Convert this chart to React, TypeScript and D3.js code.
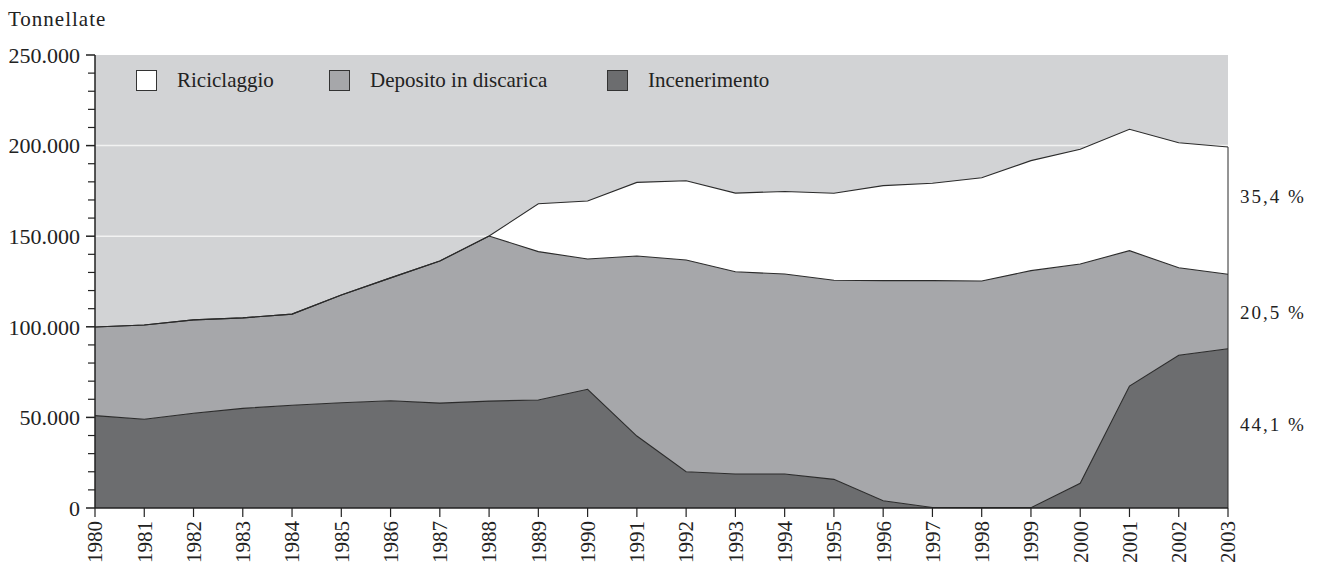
import * as d3 from "d3";

const years = [
  1980, 1981, 1982, 1983, 1984, 1985, 1986, 1987, 1988, 1989, 1990, 1991,
  1992, 1993, 1994, 1995, 1996, 1997, 1998, 1999, 2000, 2001, 2002, 2003,
];

// tonnellate per anno
const incenerimento = [
  51000, 49000, 52300, 55000, 56700, 58100, 59200, 57900, 59000, 59600, 65500,
  39700, 20000, 18800, 18800, 15800, 4000, 300, 200, 200, 13600, 67300, 84300,
  87900,
];
const deposito = [
  48900, 52000, 51500, 49900, 50300, 59400, 67800, 78400, 91100, 81900, 71900,
  99400, 116900, 111600, 110300, 109900, 121500, 125200, 125100, 130800,
  121100, 74700, 48300, 41100,
];
const riciclaggio = [
  0, 0, 0, 0, 0, 0, 0, 0, 0, 26400, 32000, 40600, 43700, 43400, 45600, 48000,
  52400, 53700, 57000, 60700, 63300, 67000, 69000, 70200,
];

const legendItems = ["Riciclaggio", "Deposito in discarica", "Incenerimento"];
const shareLabels = ["35,4 %", "20,5 %", "44,1 %"];
// dove stanno le quote sul lato destro (in tonnellate)
const shareAt = [172000, 108000, 46000];

const W = 1329;
const H = 571;
const margin = { top: 55, right: 101, bottom: 63, left: 95 };
const FONT = "'Liberation Serif', 'Times New Roman', serif";
const colors = {
  bg: "#d2d3d5",
  riciclaggio: "#ffffff",
  deposito: "#a6a7aa",
  incenerimento: "#6c6d6f",
  line: "#2b2b2b",
};

export default function App() {
  const innerW = W - margin.left - margin.right;
  const innerH = H - margin.top - margin.bottom;

  const x = d3
    .scaleLinear()
    .domain([years[0], years[years.length - 1]])
    .range([0, innerW]);
  const y = d3.scaleLinear().domain([0, 250000]).range([innerH, 0]);

  const rows = years.map((yr, i) => ({
    year: yr,
    incenerimento: incenerimento[i],
    deposito: deposito[i],
    riciclaggio: riciclaggio[i],
  }));
  const keys = ["incenerimento", "deposito", "riciclaggio"] as const;
  const series = d3.stack<any>().keys(keys as any)(rows);

  const area = d3
    .area<any>()
    .x((d) => x(d.data.year))
    .y0((d) => y(d[0]))
    .y1((d) => y(d[1]));
  const topLine = d3
    .line<any>()
    .x((d) => x(d.data.year))
    .y((d) => y(d[1]));

  const fmt = (v: number) =>
    v === 0 ? "0" : d3.format(",")(v).replace(/,/g, ".");
  const majorTicks = d3.range(0, 250001, 50000);
  const minorTicks = d3.range(0, 250001, 10000).filter((v) => v % 50000 !== 0);

  const lastTotal = series[2][series[2].length - 1][1];
  const legendX = [41, 234, 512];
  const legendFill = [colors.riciclaggio, colors.deposito, colors.incenerimento];

  return (
    <svg
      width={W}
      height={H}
      style={{ position: "absolute", left: 0, top: 0, background: "#fff" }}
      fontFamily={FONT}
    >
      <text x={8} y={26} fontSize={21} letterSpacing={1} fill="#222">
        Tonnellate
      </text>
      <g transform={`translate(${margin.left},${margin.top})`}>
        <rect x={0} y={0} width={innerW} height={innerH} fill={colors.bg} />
        {majorTicks.slice(1, -1).map((v) => (
          <line
            key={v}
            x1={0}
            x2={innerW}
            y1={y(v)}
            y2={y(v)}
            stroke="#f2f2f2"
            strokeWidth={1.5}
          />
        ))}
        {series.map((s, i) => (
          <path
            key={s.key}
            d={area(s) || ""}
            fill={[colors.incenerimento, colors.deposito, colors.riciclaggio][i]}
          />
        ))}
        {series.map((s) => (
          <path
            key={"l" + s.key}
            d={topLine(s) || ""}
            fill="none"
            stroke={colors.line}
            strokeWidth={1.1}
          />
        ))}
        <line
          x1={innerW}
          x2={innerW}
          y1={y(lastTotal)}
          y2={innerH}
          stroke={colors.line}
          strokeWidth={1}
        />

        {/* legenda */}
        {legendItems.map((name, i) => (
          <g key={name} transform={`translate(${legendX[i]},15)`}>
            <rect
              x={0.5}
              y={0.5}
              width={20}
              height={20}
              fill={legendFill[i]}
              stroke="#333"
              strokeWidth={1}
            />
            <text x={41} y={17} fontSize={21} fill="#222">
              {name}
            </text>
          </g>
        ))}

        {/* asse y */}
        <line x1={0} x2={0} y1={0} y2={innerH} stroke="#222" strokeWidth={1.5} />
        {majorTicks.map((v) => (
          <g key={v} transform={`translate(0,${y(v)})`}>
            <line x1={-9} x2={0} stroke="#222" strokeWidth={1.5} />
            <text
              x={-15}
              dy="0.35em"
              textAnchor="end"
              fontSize={22}
              fill="#222"
            >
              {fmt(v)}
            </text>
          </g>
        ))}
        {minorTicks.map((v) => (
          <line
            key={v}
            x1={-7}
            x2={0}
            y1={y(v)}
            y2={y(v)}
            stroke="#222"
            strokeWidth={1.2}
          />
        ))}

        {/* asse x */}
        <line x1={0} x2={innerW} y1={innerH} y2={innerH} stroke="#222" strokeWidth={1.5} />
        {years.map((yr) => (
          <g key={yr} transform={`translate(${x(yr)},${innerH})`}>
            <line y1={0} y2={9} stroke="#222" strokeWidth={1.2} />
            <text
              transform="translate(0,13) rotate(-90)"
              dy="0.35em"
              textAnchor="end"
              fontSize={21}
              fill="#222"
            >
              {yr}
            </text>
          </g>
        ))}

        {/* quote 2003 */}
        {shareLabels.map((t, i) => (
          <text
            key={t}
            x={innerW + 12}
            y={y(shareAt[i])}
            dy="0.35em"
            fontSize={19}
            letterSpacing={2}
            fill="#222"
          >
            {t}
          </text>
        ))}
      </g>
    </svg>
  );
}
